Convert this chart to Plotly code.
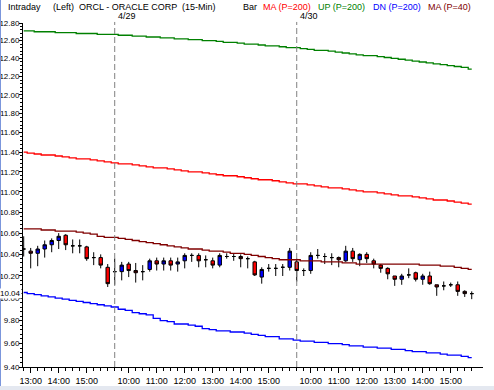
import math
import plotly.graph_objects as go

# ---------------- data ----------------
bars = list(range(65))  # 15-min bars: 4/28 12:45 .. 4/30 15:45

opens = [10.45, 10.43, 10.41, 10.45, 10.49, 10.53, 10.58, 10.48, 10.48, 10.47,
         10.37, 10.37, 10.28, 10.24, 10.24, 10.31, 10.25, 10.24, 10.26, 10.34,
         10.31, 10.34, 10.31, 10.34, 10.39, 10.39, 10.35, 10.34, 10.30, 10.38,
         10.38, 10.38, 10.36, 10.33, 10.19, 10.27, 10.27, 10.28, 10.28, 10.33,
         10.25, 10.25, 10.39, 10.38, 10.37, 10.37, 10.34, 10.43, 10.35, 10.40,
         10.34, 10.30, 10.27, 10.20, 10.17, 10.21, 10.23, 10.17, 10.20, 10.12,
         10.11, 10.12, 10.12, 10.06, 10.04]
highs = [10.57, 10.46, 10.48, 10.53, 10.55, 10.60, 10.59, 10.54, 10.54, 10.48,
         10.42, 10.40, 10.31, 10.36, 10.33, 10.33, 10.32, 10.30, 10.36, 10.37,
         10.37, 10.37, 10.37, 10.41, 10.41, 10.41, 10.39, 10.37, 10.41, 10.41,
         10.41, 10.40, 10.38, 10.34, 10.28, 10.31, 10.31, 10.31, 10.46, 10.36,
         10.27, 10.42, 10.45, 10.41, 10.41, 10.38, 10.48, 10.46, 10.41, 10.42,
         10.36, 10.31, 10.28, 10.20, 10.22, 10.27, 10.24, 10.22, 10.24, 10.12,
         10.15, 10.14, 10.15, 10.07, 10.06]
lows = [10.38, 10.27, 10.29, 10.37, 10.42, 10.45, 10.44, 10.41, 10.41, 10.34,
        10.30, 10.27, 10.10, 10.12, 10.16, 10.19, 10.14, 10.16, 10.24, 10.25,
        10.25, 10.25, 10.24, 10.27, 10.33, 10.28, 10.28, 10.27, 10.28, 10.36,
        10.34, 10.28, 10.27, 10.20, 10.13, 10.24, 10.20, 10.20, 10.25, 10.15,
        10.20, 10.22, 10.36, 10.31, 10.30, 10.28, 10.33, 10.33, 10.29, 10.32,
        10.27, 10.23, 10.17, 10.11, 10.12, 10.18, 10.15, 10.12, 10.12, 10.02,
        10.07, 10.10, 10.02, 10.01, 9.99]
closes = [10.45, 10.41, 10.45, 10.49, 10.53, 10.57, 10.49, 10.48, 10.48, 10.36,
          10.37, 10.30, 10.13, 10.24, 10.30, 10.25, 10.23, 10.24, 10.34, 10.31,
          10.34, 10.30, 10.33, 10.39, 10.39, 10.34, 10.35, 10.30, 10.39, 10.38,
          10.38, 10.36, 10.36, 10.21, 10.26, 10.27, 10.27, 10.28, 10.43, 10.25,
          10.25, 10.39, 10.39, 10.38, 10.37, 10.35, 10.43, 10.36, 10.40, 10.36,
          10.31, 10.27, 10.22, 10.17, 10.20, 10.21, 10.17, 10.20, 10.13, 10.10,
          10.11, 10.12, 10.06, 10.04, 10.04]

ma200 = [11.40, 11.39, 11.38, 11.37, 11.37, 11.36, 11.35, 11.34, 11.33, 11.33,
         11.32, 11.31, 11.30, 11.29, 11.28, 11.28, 11.27, 11.26, 11.25, 11.24,
         11.24, 11.23, 11.22, 11.21, 11.20, 11.20, 11.19, 11.18, 11.17, 11.16,
         11.16, 11.15, 11.14, 11.13, 11.12, 11.12, 11.11, 11.10, 11.09, 11.08,
         11.08, 11.07, 11.06, 11.05, 11.04, 11.04, 11.03, 11.02, 11.01, 11.00,
         11.00, 10.99, 10.98, 10.97, 10.96, 10.96, 10.95, 10.94, 10.93, 10.92,
         10.92, 10.91, 10.90, 10.89, 10.88]
up200 = [12.71, 12.71, 12.70, 12.70, 12.70, 12.69, 12.69, 12.69, 12.68, 12.68,
         12.68, 12.67, 12.67, 12.67, 12.66, 12.66, 12.65, 12.65, 12.64, 12.64,
         12.63, 12.63, 12.62, 12.62, 12.61, 12.61, 12.60, 12.60, 12.59, 12.58,
         12.58, 12.57, 12.56, 12.56, 12.55, 12.54, 12.54, 12.53, 12.52, 12.52,
         12.51, 12.50, 12.49, 12.49, 12.48, 12.47, 12.46, 12.45, 12.44, 12.43,
         12.43, 12.42, 12.41, 12.40, 12.39, 12.38, 12.37, 12.36, 12.35, 12.34,
         12.33, 12.32, 12.31, 12.30, 12.28]
dn200 = [10.05, 10.04, 10.03, 10.02, 10.01, 10.00, 9.99, 9.98, 9.97, 9.96,
         9.95, 9.94, 9.93, 9.92, 9.90, 9.89, 9.87, 9.86, 9.85, 9.82,
         9.80, 9.79, 9.77, 9.77, 9.76, 9.75, 9.73, 9.72, 9.71, 9.71,
         9.70, 9.70, 9.69, 9.68, 9.67, 9.66, 9.66, 9.64, 9.64, 9.63,
         9.62, 9.62, 9.61, 9.61, 9.60, 9.60, 9.59, 9.58, 9.58, 9.57,
         9.57, 9.56, 9.56, 9.55, 9.55, 9.54, 9.53, 9.53, 9.52, 9.52,
         9.51, 9.50, 9.50, 9.49, 9.48]
ma40 = [10.64, 10.64, 10.64, 10.63, 10.63, 10.62, 10.62, 10.62, 10.61, 10.60,
        10.59, 10.57, 10.56, 10.56, 10.55, 10.54, 10.53, 10.52, 10.51, 10.50,
        10.49, 10.48, 10.47, 10.46, 10.45, 10.45, 10.44, 10.43, 10.43, 10.42,
        10.41, 10.41, 10.40, 10.39, 10.38, 10.37, 10.36, 10.35, 10.35, 10.35,
        10.34, 10.34, 10.34, 10.33, 10.33, 10.33, 10.32, 10.32, 10.31, 10.31,
        10.31, 10.31, 10.31, 10.31, 10.31, 10.31, 10.31, 10.30, 10.30, 10.30,
        10.29, 10.29, 10.28, 10.27, 10.26]

hour_bars = [1, 5, 9, 15, 19, 23, 27, 31, 35, 41, 45, 49, 53, 57, 61]
hour_labels = ["13:00", "14:00", "15:00", "10:00", "11:00", "12:00", "13:00",
               "14:00", "15:00", "10:00", "11:00", "12:00", "13:00", "14:00", "15:00"]
day_bars = [13, 39]
day_labels = ["4/29", "4/30"]

price_ticks = [9.40, 9.60, 9.80, 10.00, 10.20, 10.40, 10.60, 10.80, 11.00,
               11.20, 11.40, 11.60, 11.80, 12.00, 12.20, 12.40, 12.60, 12.80]
last_price = 10.04

header_items = [("Intraday", "#000000"), ("(Left)", "#000000"),
                ("ORCL - ORACLE CORP  (15-Min)", "#000000"), ("Bar", "#000000"),
                ("MA (P=200)", "#ff0000"), ("UP (P=200)", "#008000"),
                ("DN (P=200)", "#0000ff"), ("MA (P=40)", "#800000")]
header_px = [7, 52, 78, 242, 262, 317, 372, 427]

# ---------------- figure ----------------
FONT = "Liberation Sans, Arial, sans-serif"
FS = 9
YFS = 8
L, R, T, B = 23, 11, 23, 23
W, H = 494, 390
PW, PH = W - L - R, H - T - B

def px_x(p):
    return (p - L) / PW

def px_y(p):
    return 1 + (T - p) / PH

fig = go.Figure()

line_specs = [(up200, "#008000"), (ma200, "#ff0000"), (ma40, "#800000"), (dn200, "#0000ff")]
for vals, col in line_specs:
    fig.add_trace(go.Scatter(x=bars, y=vals, mode="lines",
                             line=dict(color=col, width=1.3, shape="hvh"),
                             showlegend=False, hoverinfo="skip"))

fig.add_trace(go.Candlestick(
    x=bars, open=opens, high=highs, low=lows, close=closes,
    increasing=dict(fillcolor="#0000ff", line=dict(color="#000000", width=1)),
    decreasing=dict(fillcolor="#ff0000", line=dict(color="#000000", width=1)),
    whiskerwidth=0, showlegend=False))

shapes = []
for d in day_bars:
    shapes.append(dict(type="line", xref="x", yref="paper", x0=d, x1=d, y0=0, y1=1.003,
                       line=dict(color="#808080", width=1, dash="6px,3px")))
# window border and bottom strip
shapes.append(dict(type="line", xref="paper", yref="paper", x0=px_x(0.5), x1=px_x(0.5),
                   y0=px_y(H), y1=px_y(0), line=dict(color="#7b96dc", width=1)))
shapes.append(dict(type="rect", xref="paper", yref="paper", x0=px_x(0), x1=px_x(W),
                   y0=px_y(390), y1=px_y(386), fillcolor="#e4e8f0", line=dict(width=0)))

annotations = []
for (txt, col), px in zip(header_items, header_px):
    annotations.append(dict(text=txt, xref="paper", yref="paper", x=px_x(px), y=px_y(7),
                            xanchor="left", yanchor="middle", showarrow=False, borderpad=0,
                            font=dict(family=FONT, size=FS, color=col)))
for d, lab in zip(day_bars, day_labels):
    annotations.append(dict(text=lab, xref="x", yref="paper", x=d + 0.3, y=px_y(16),
                            xanchor="left", yanchor="middle", showarrow=False, borderpad=0,
                            font=dict(family=FONT, size=FS, color="#000000")))
annotations.append(dict(text=f"{last_price:.2f}", xref="paper", yref="y", x=px_x(22),
                        y=math.log10(last_price), xanchor="right", yanchor="middle",
                        showarrow=False, bgcolor="#ffffff", borderpad=0,
                        font=dict(family=FONT, size=YFS, color="#000000")))

minor_y = [round(9.40 + 0.04 * k, 2) for k in range(86)]

fig.update_layout(
    width=W, height=H,
    margin=dict(l=L, r=R, t=T, b=B, autoexpand=False),
    paper_bgcolor="#ffffff", plot_bgcolor="#ffffff",
    font=dict(family=FONT, size=FS, color="#000000"),
    shapes=shapes, annotations=annotations,
    showlegend=False,
    xaxis=dict(range=[-0.1, 65.61], showgrid=False, zeroline=False,
               rangeslider=dict(visible=False), automargin=False,
               tickmode="array", tickvals=hour_bars, ticktext=hour_labels,
               tickangle=0,
               ticks="outside", ticklen=5, tickcolor="#000000", tickwidth=1,
               showline=True, linecolor="#000000", linewidth=1,
               tickfont=dict(family=FONT, size=FS, color="#000000"),
               minor=dict(tickmode="array", tickvals=bars, ticks="outside",
                          ticklen=3, tickcolor="#000000", showgrid=False),
               fixedrange=True),
    yaxis=dict(type="log", range=[math.log10(9.40), math.log10(12.80)],
               showgrid=False, zeroline=False,
               tickmode="array", tickvals=price_ticks,
               ticktext=[f"{v:.2f}" for v in price_ticks],
               ticks="outside", ticklen=3, tickcolor="#000000", tickwidth=1,
               ticklabelstandoff=-2,
               showline=True, linecolor="#000000", linewidth=1,
               tickfont=dict(family=FONT, size=YFS, color="#000000"),
               minor=dict(tickmode="array", tickvals=minor_y, ticks="outside",
                          ticklen=2, tickcolor="#000000", showgrid=False),
               automargin=False, fixedrange=True),
)

fig.write_html("out.html", config={"displayModeBar": False},
               post_script="document.body.style.margin='0';document.body.style.overflow='hidden';")
